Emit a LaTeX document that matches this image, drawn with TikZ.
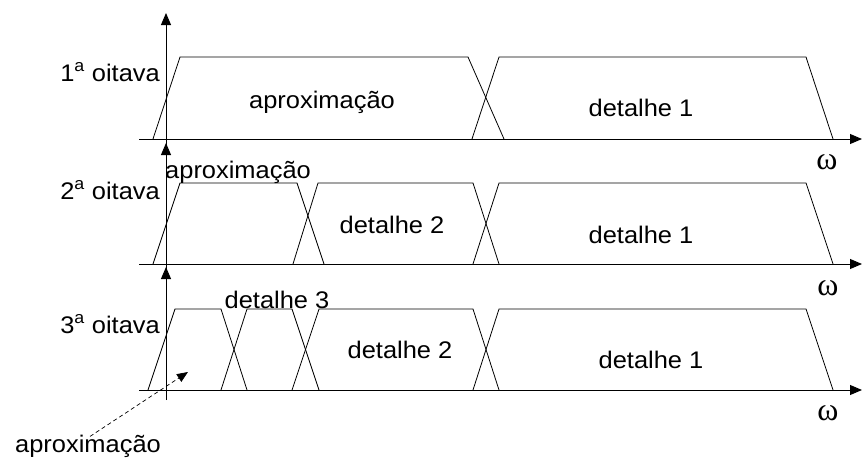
\documentclass[tikz,border=0pt]{standalone}
\usepackage{fontspec}
\setmainfont{Liberation Sans}
\newfontfamily\serifw{Liberation Serif}
\usetikzlibrary{arrows.meta}

\begin{document}
\begin{tikzpicture}[x=1pt,y=-1pt,
  eixo/.style={line width=0.9pt,-{Triangle[length=12pt,width=10pt]}},
  filtro/.style={line width=0.8pt},
  rotulo/.style={font=\fontsize{24}{28}\selectfont,xscale=1.06,inner sep=0pt},
  omega/.style={font=\serifw\fontsize{32}{34}\selectfont,inner sep=0pt}]
\useasboundingbox (0,0) rectangle (862,471);

% 1a oitava
\draw[eixo] (166,149) -- (166,13);
\draw[eixo] (139,139) -- (862,139);
\draw[filtro] (153,139) -- (180,57) -- (468,57) -- (504,139);
\draw[filtro] (472,139) -- (499,57) -- (806,57) -- (833,139);

\node[rotulo,anchor=base east] (oit1) at (160,81) {1\textsuperscript{a} oitava};
\node[rotulo,anchor=base] (apx1) at (322,108) {aproximação};
\node[rotulo,anchor=base] (det11) at (641,116) {detalhe 1};
\node[omega] (w1) at (827,162) {ω};

% 2a oitava
\draw[eixo] (166,274) -- (166,143);
\draw[eixo] (139,264) -- (862,264);
\draw[filtro] (153,264) -- (180,183) -- (297,183) -- (324,264);
\draw[filtro] (293,264) -- (318,183) -- (473,183) -- (499,264);
\draw[filtro] (473,264) -- (499,183) -- (806,183) -- (833,264);

\node[rotulo,anchor=base east] (oit2) at (160,199) {2\textsuperscript{a} oitava};
\node[rotulo,anchor=base west] (apx2) at (165,178) {aproximação};
\node[rotulo,anchor=base] (det22) at (392,233) {detalhe 2};
\node[rotulo,anchor=base] (det21) at (641,243) {detalhe 1};
\node[omega] (w2) at (828,288) {ω};

% 3a oitava
\draw[eixo] (166,400) -- (166,267);
\draw[eixo] (139,390) -- (862,390);
\draw[filtro] (148,390) -- (175,309) -- (221,309) -- (247,390);
\draw[filtro] (221,390) -- (247,309) -- (292,309) -- (319,390);
\draw[filtro] (292,390) -- (319,309) -- (473,309) -- (499,390);
\draw[filtro] (473,390) -- (499,309) -- (806,309) -- (833,390);

\node[rotulo,anchor=base east] (oit3) at (160,333) {3\textsuperscript{a} oitava};
\node[rotulo,anchor=base] (det33) at (277,308) {detalhe 3};
\node[rotulo,anchor=base] (det32) at (400,358) {detalhe 2};
\node[rotulo,anchor=base] (det31) at (651,368) {detalhe 1};
\node[omega] (w3) at (828,413) {ω};

% banda de aproximacao da 3a oitava
\node[rotulo,anchor=base] (apx3) at (88,452) {aproximação};
\coordinate (ponta) at (188,372);
\draw[line width=0.7pt,dash pattern=on 4pt off 3pt,-{Triangle[length=11pt,width=9pt]}]
  ([xshift=2pt,yshift=-2pt]apx3.north) -- (ponta);
\end{tikzpicture}
\end{document}
